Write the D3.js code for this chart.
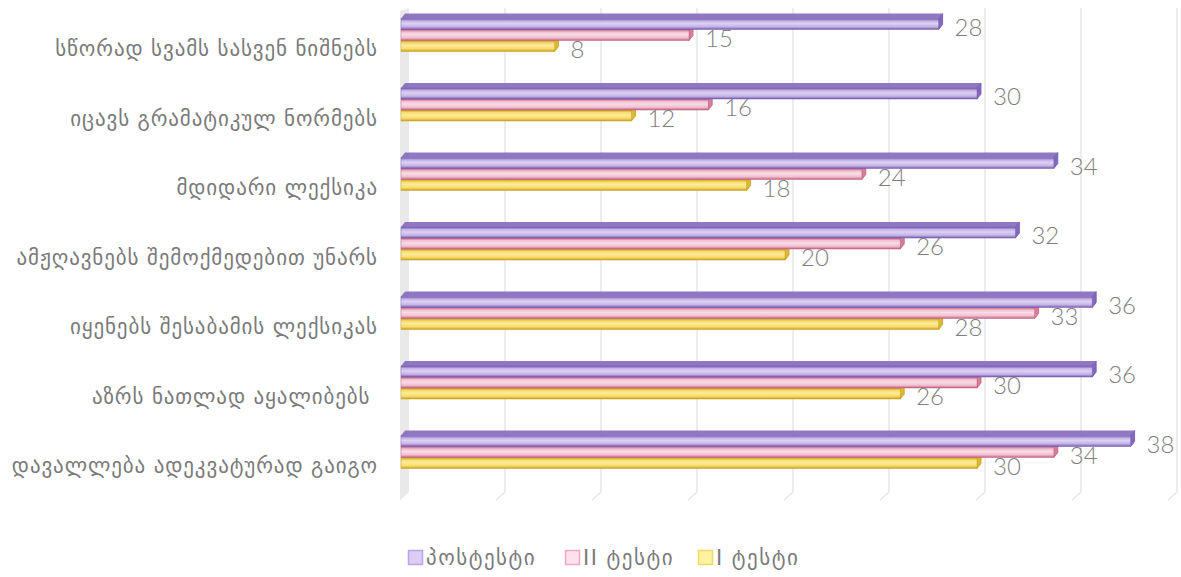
<!DOCTYPE html>
<html>
<head>
<meta charset="utf-8">
<script src="https://cdn.jsdelivr.net/npm/d3@7"></script>
<style>
  body { margin: 0; background: #fff; }
  svg { display: block; }
  .cat { font-family: "DejaVu Sans", sans-serif; font-size: 21px; letter-spacing: 0.9px; fill: #7a7a7a; }
  .val { font-family: "Lato Light", Lato, "Open Sans", sans-serif; font-weight: 300; font-size: 24px; fill: #7f7f7f; }
  .leg { font-family: "DejaVu Sans", sans-serif; font-size: 21px; letter-spacing: 1.5px; fill: #7a7a7a; }
</style>
</head>
<body>
<div id="chart"></div>
<script>
// categories, top to bottom
const categories = [
  "სწორად სვამს სასვენ ნიშნებს",
  "იცავს გრამატიკულ ნორმებს",
  "მდიდარი ლექსიკა",
  "ამჟღავნებს შემოქმედებით უნარს",
  "იყენებს შესაბამის ლექსიკას",
  "აზრს ნათლად აყალიბებს ",
  "დავალლება ადეკვატურად გაიგო"
];
const seriesNames = ["პოსტესტი", "II ტესტი", "I ტესტი"];
const postTest = [28, 30, 34, 32, 36, 36, 38];
const test2 = [15, 16, 24, 26, 33, 30, 34];
const test1 = [8, 12, 18, 20, 28, 26, 30];

const seriesVals = [postTest, test2, test1];
const barCol = [
  { edge: "#7056ab", mid: "#c4b3e6", light: "#dcd0f3", cap: "#8468bd" },
  { edge: "#c25a7e", mid: "#f0c0cf", light: "#f8dbe4", cap: "#d77e9b" },
  { edge: "#c59d18", mid: "#f8db6a", light: "#fdeb9c", cap: "#ddb737" }
];
const legCol = [
  { fill: "#dacdf6", stroke: "#b9a5ea" },
  { fill: "#fde2ee", stroke: "#f5a7c6" },
  { fill: "#fff3a2", stroke: "#f0da66" }
];

const W = 1181, H = 577;
const depthX = 8, depthY = -5;

const svg = d3.select("#chart").append("svg")
  .attr("width", W).attr("height", H);

const x = d3.scaleLinear().domain([0, 40]).range([401, 1169]);
const y0 = d3.scaleBand().domain(categories)
  .range([0.3, 0.3 + 7 * 69.5])
  .paddingInner(0.525).paddingOuter(0.2625);
const y1 = d3.scaleBand().domain(d3.range(3)).range([0, y0.bandwidth()]);

// gradients for the bars
const defs = svg.append("defs");
barCol.forEach(function(c, i) {
  const g = defs.append("linearGradient").attr("id", "g" + i)
    .attr("x1", 0).attr("y1", 0).attr("x2", 0).attr("y2", 1);
  g.append("stop").attr("offset", "0%").attr("stop-color", c.edge);
  g.append("stop").attr("offset", "22%").attr("stop-color", c.mid);
  g.append("stop").attr("offset", "45%").attr("stop-color", c.light);
  g.append("stop").attr("offset", "75%").attr("stop-color", c.mid);
  g.append("stop").attr("offset", "100%").attr("stop-color", c.edge);
});

// back wall + gridlines
const gTop = 8, gBot = 492;
const grid = svg.append("g");
grid.append("path")
  .attr("d", "M400," + (gTop + 3) + "L409," + gTop + "L409," + gBot + "L400," + (gBot + 8) + "Z")
  .attr("fill", "#e9e9e9");
grid.selectAll(".gl").data(x.ticks(8).filter(function(d) { return d > 0; }))
  .enter().append("path")
  .attr("class", "gl")
  .attr("d", function(d) {
    const xb = x(d) + depthX;
    return "M" + xb + "," + gTop + "L" + xb + "," + gBot + "L" + (xb - 9) + "," + (gBot + 8);
  })
  .attr("fill", "none")
  .attr("stroke", "#e6e6e6")
  .attr("stroke-width", 1.4);

// bars, drawn bottom series first so upper bars cover top faces
const bars = svg.append("g");
[2, 1, 0].forEach(function(s) {
  const c = barCol[s];
  categories.forEach(function(cat, i) {
    const v = seriesVals[s][i];
    const yT = y0(cat) + y1(s);
    const h = y1.bandwidth();
    const xL = x(0), xR = x(v);
    const g = bars.append("g");
    // top face
    g.append("path")
      .attr("d", "M" + xL + "," + yT + "L" + (xL + depthX * 0.5) + "," + (yT + depthY) +
        "L" + (xR + depthX * 0.5) + "," + (yT + depthY) + "L" + xR + "," + yT + "Z")
      .attr("fill", c.cap).attr("opacity", 0.9);
    // end cap
    g.append("path")
      .attr("d", "M" + xR + "," + yT + "L" + (xR + depthX * 0.5) + "," + (yT + depthY) +
        "L" + (xR + depthX * 0.5) + "," + (yT + h + depthY) + "L" + xR + "," + (yT + h) + "Z")
      .attr("fill", c.cap).attr("stroke", c.edge).attr("stroke-width", 0.8);
    // front
    g.append("rect")
      .attr("x", xL).attr("y", yT)
      .attr("width", xR - xL).attr("height", h)
      .attr("fill", "url(#g" + s + ")")
      .attr("stroke", c.edge).attr("stroke-width", 0.6).attr("stroke-opacity", 0.6);
  });
});

// value labels
const labels = svg.append("g");
seriesVals.forEach(function(vals, s) {
  labels.selectAll(".v" + s).data(vals).enter().append("text")
    .attr("class", "val")
    .attr("x", function(d) { return x(d) + 16; })
    .attr("y", function(d, i) { return y0(categories[i]) + y1(s) + y1.bandwidth() / 2 + 2; })
    .attr("dominant-baseline", "central")
    .text(function(d) { return d; });
});

// category labels
svg.append("g").selectAll(".cat").data(categories).enter().append("text")
  .attr("class", "cat")
  .attr("x", 378)
  .attr("y", function(d) { return y0(d) + y0.bandwidth() / 2 + 14; })
  .attr("text-anchor", "end")
  .attr("dominant-baseline", "central")
  .attr("xml:space", "preserve")
  .text(function(d) { return d; });

// legend
const legX = [408, 565, 698];
const leg = svg.append("g");
seriesNames.forEach(function(n, i) {
  leg.append("rect")
    .attr("x", legX[i] + 0.5).attr("y", 550.5)
    .attr("width", 14).attr("height", 14)
    .attr("fill", legCol[i].fill).attr("stroke", legCol[i].stroke).attr("stroke-width", 1.5);
  leg.append("text")
    .attr("class", "leg")
    .attr("x", legX[i] + 18).attr("y", 558)
    .attr("dominant-baseline", "central")
    .text(n);
});
</script>
</body>
</html>
